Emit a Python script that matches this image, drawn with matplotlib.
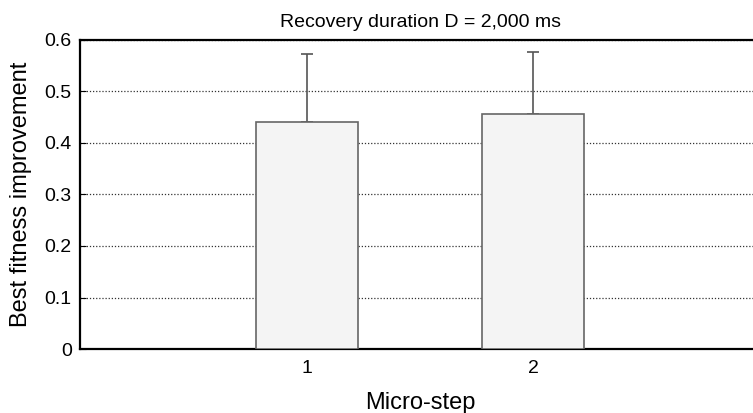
import matplotlib
matplotlib.use("Agg")
import matplotlib.pyplot as plt

plt.rcParams['font.family'] = ['Liberation Sans', 'DejaVu Sans']

# Mean best-fitness improvement per micro-step, with upper std error
steps = [1, 2]
step_labels = ['1', '2']
improvement = [0.441, 0.457]
std_err = [0.132, 0.119]

fig = plt.figure(figsize=(7.53, 4.13), dpi=100)
ax = fig.add_axes([80 / 753, 64 / 413, 680 / 753, 309 / 413])

ax.bar(steps, improvement, width=0.45, color='#f4f4f4', edgecolor='#666666',
       linewidth=1.2, zorder=3)
ax.errorbar(steps, improvement, yerr=[[0, 0], std_err], fmt='none',
            ecolor='#555555', elinewidth=1.2, capsize=4.5, capthick=1.2, zorder=2)

ax.set_xlim(0, 3)
ax.set_ylim(0, 0.6)
ax.set_xticks(steps)
ax.set_xticklabels(step_labels)
ax.set_yticks([0, 0.1, 0.2, 0.3, 0.4, 0.5, 0.6])
ax.set_yticklabels(['0', '0.1', '0.2', '0.3', '0.4', '0.5', '0.6'])

ax.yaxis.grid(True, linestyle=(0, (1, 1.5)), color='#333333', linewidth=0.9, zorder=0)
ax.tick_params(axis='y', direction='in', length=4, labelsize=14, pad=6)
ax.tick_params(axis='x', length=0, labelsize=14, pad=8)

for side in ['left', 'bottom', 'top']:
    ax.spines[side].set_linewidth(1.6)
    ax.spines[side].set_color('black')
ax.spines['right'].set_visible(False)

ax.set_title('Recovery duration D = 2,000 ms', fontsize=14, pad=9)
ax.set_xlabel('Micro-step', fontsize=17, labelpad=11)
ax.set_ylabel('Best fitness improvement', fontsize=17, labelpad=9)

fig.savefig('out.png', dpi=100)
